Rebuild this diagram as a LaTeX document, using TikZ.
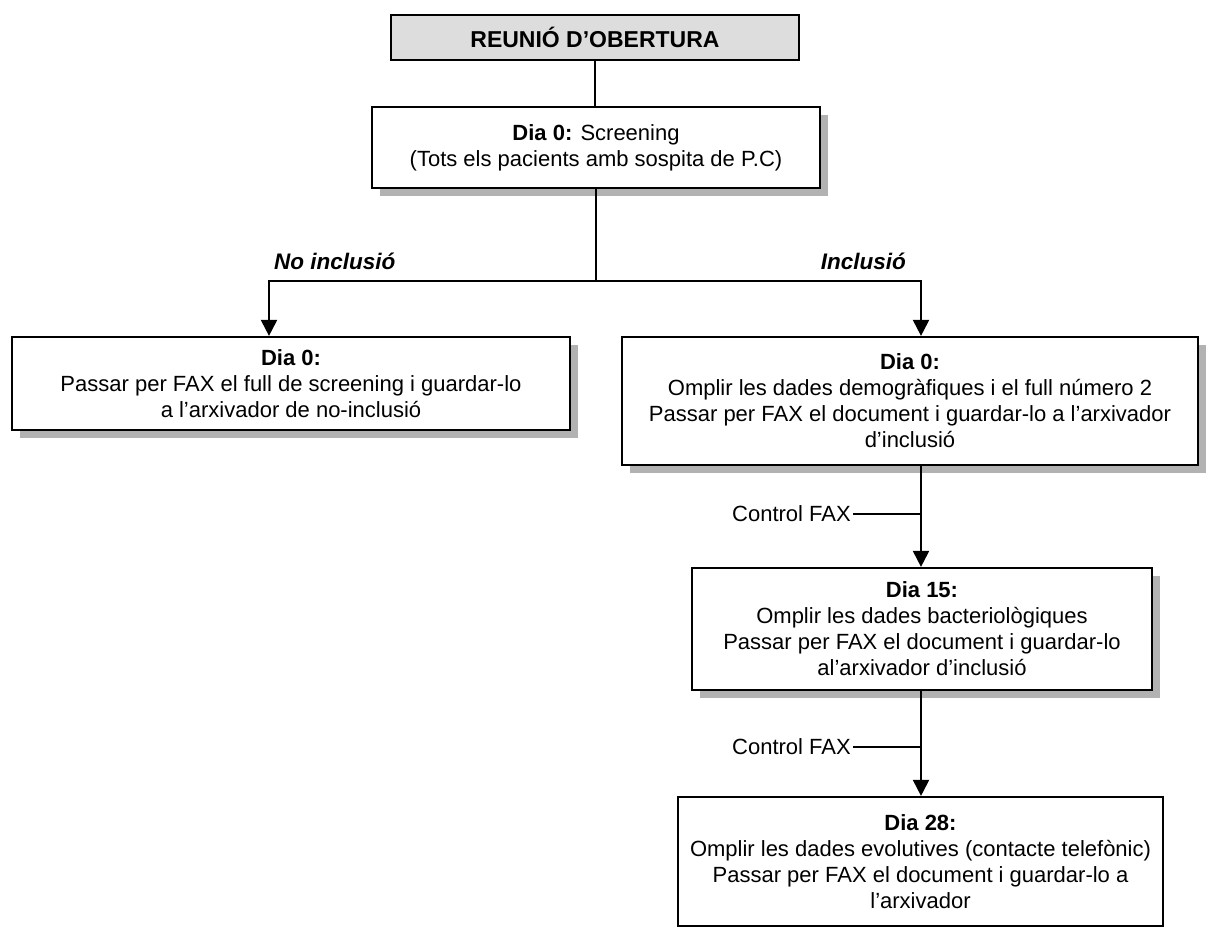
\documentclass[tikz,border=0pt]{standalone}
\usepackage{fontspec}
\setmainfont{Liberation Sans}
\usetikzlibrary{arrows.meta,positioning,calc,shadows}
\definecolor{headfill}{RGB}{221,221,221}
\definecolor{shadefill}{RGB}{178,178,178}

\begin{document}
\begin{tikzpicture}[
  x=1pt, y=-1pt,
  font=\fontsize{22}{26}\selectfont,
  stage/.style={draw, line width=2.2pt, align=center, inner sep=0pt, fill=white},
  shade/.style={drop shadow={shadow xshift=8pt, shadow yshift=-8pt, fill=shadefill, opacity=1}},
  link/.style={line width=2pt},
  arr/.style={link, -{Triangle[length=16pt, width=16pt]}},
  lbl/.style={font=\fontsize{22.5}{26}\selectfont\bfseries\itshape, inner sep=0pt},
]
\useasboundingbox (0,0) rectangle (1220,927);
% boxes
\node[stage, fill=headfill, minimum width=408pt, minimum height=45pt,
  font=\fontsize{23}{26}\selectfont\bfseries] (open) at (595,37.5) {REUNIÓ D’OBERTURA};
\node[stage, shade, minimum width=448pt, minimum height=81pt] (screen) at (596,147.5)
  {\textbf{Dia 0:} Screening\\(Tots els pacients amb sospita de P.C)};
\node[stage, shade, minimum width=558pt, minimum height=93pt] (noinc) at (291,383.5)
  {\textbf{Dia 0:}\\Passar per FAX el full de screening i guardar-lo\\a l’arxivador de no-inclusió};
\node[stage, shade, minimum width=576pt, minimum height=128pt] (inc) at (910,401)
  {\textbf{Dia 0:}\\Omplir les dades demogràfiques i el full número 2\\Passar per FAX el document i guardar-lo a l’arxivador\\d’inclusió};
\node[stage, shade, minimum width=460pt, minimum height=122pt] (d15) at (922,629)
  {\textbf{Dia 15:}\\Omplir les dades bacteriològiques\\Passar per FAX el document i guardar-lo\\al’arxivador d’inclusió};
\node[stage, minimum width=485pt, minimum height=129pt] (d28) at (920.5,861.5)
  {\textbf{Dia 28:}\\Omplir les dades evolutives (contacte telefònic)\\Passar per FAX el document i guardar-lo a\\l’arxivador};
% split
\coordinate (lt) at (269,281);
\coordinate (rt) at (921,281);
\draw[link] (open.south) -- (open.south |- screen.north);
\draw[link] (screen.south) -- (screen.south |- lt);
\draw[arr] (lt -| screen.south) -- (lt) -- (lt |- noinc.north);
\draw[arr] (rt -| screen.south) -- (rt) -- (rt |- inc.north);
\node[lbl, anchor=base west] (nolbl) at (274,269) {No inclusió};
\node[lbl, anchor=base east] (inlbl) at (906,269) {Inclusió};
% control fax steps
\draw[arr] (rt |- inc.south) -- (rt |- d15.north);
\draw[arr] (rt |- d15.south) -- (rt |- d28.north);
\node[anchor=east, inner sep=2pt] (fax1) at (853,514) {Control FAX};
\node[anchor=east, inner sep=2pt] (fax2) at (853,747) {Control FAX};
\draw[link] (fax1.east) -- (fax1 -| rt);
\draw[link] (fax2.east) -- (fax2 -| rt);
\end{tikzpicture}
\end{document}
